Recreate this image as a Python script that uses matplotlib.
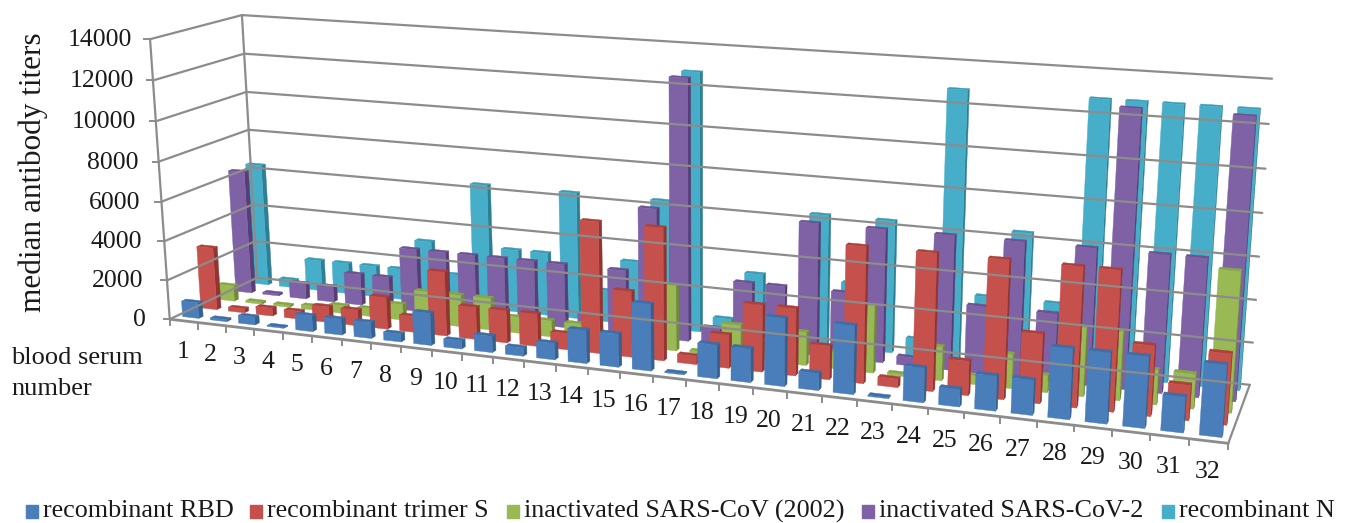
import numpy as np
import matplotlib
matplotlib.use("Agg")
import matplotlib.pyplot as plt

plt.rcParams['font.family'] = ['Liberation Serif', 'DejaVu Serif']

# data, titers look like two-fold steps
serum_numbers = list(range(1, 33))
series_names = ['recombinant RBD', 'recombinant trimer S', 'inactivated SARS-CoV (2002)',
                'inactivated SARS-CoV-2', 'recombinant N']
rbd = [800, 100, 400, 50, 800, 800, 800, 400, 1600, 400, 800, 400, 800, 1600, 1600, 3200,
       50, 1600, 1600, 3200, 800, 3200, 50, 1600, 800, 1600, 1600, 3200, 3200, 3200, 1600, 3200]
trimer_s = [3200, 200, 400, 400, 800, 800, 1600, 800, 3200, 1600, 1600, 1600, 800, 6400, 3200, 6400,
            400, 1600, 3200, 3200, 1600, 6400, 400, 6400, 1600, 6400, 3200, 6400, 6400, 3200, 1600, 3200]
sars_2002 = [800, 100, 100, 200, 400, 400, 800, 1600, 1600, 1600, 800, 800, 800, 200, 800, 3200,
             100, 1600, 800, 1600, 800, 3200, 100, 1600, 400, 1600, 800, 3200, 3200, 1600, 1600, 6400]
sars_cov2 = [6400, 100, 800, 800, 1600, 1600, 3200, 3200, 3200, 3200, 3200, 3200, 800, 3200, 6400, 12800,
             800, 3200, 3200, 6400, 3200, 6400, 400, 6400, 3200, 6400, 3200, 6400, 12800, 6400, 6400, 12800]
n_protein = [6400, 400, 1600, 1600, 1600, 1600, 3200, 1600, 6400, 3200, 3200, 6400, 1600, 3200, 6400, 12800,
             800, 3200, 1600, 6400, 3200, 6400, 800, 12800, 3200, 6400, 3200, 12800, 12800, 12800, 12800, 12800]
all_series = [rbd, trimer_s, sars_2002, sars_cov2, n_protein]
y_ticks = [0, 2000, 4000, 6000, 8000, 10000, 12000, 14000]

# face, side, top colours per series
face_colors = ['#4a7ebb', '#c6504b', '#98b954', '#7f62a5', '#47aec9']
side_colors = ['#35608f', '#923431', '#70893a', '#573f75', '#2f7f94']
top_colors = ['#3f6da6', '#ab403c', '#86a548', '#6d5290', '#3d9bb4']

zmax = 14000.0
ncat = len(serum_numbers)
nser = len(all_series)
bar_w = 0.58
bar_d = 0.24
grid_color = '#8c8c8c'

# the 3d box corners on the picture, used to fit the camera
box = np.array([[0, 0, 0], [1, 0, 0], [0, 1, 0], [1, 1, 0], [0, 0, 1], [0, 1, 1], [1, 1, 1]], float)
pix = np.array([[170, 318], [1228, 445], [257, 279], [1250, 383], [150, 39], [242, 15], [1272, 79]], float)


def fit_camera(b, p):
    rows = []
    for (x, y, z), (u, v) in zip(b, p):
        rows.append([x, y, z, 1, 0, 0, 0, 0, -u * x, -u * y, -u * z, -u])
        rows.append([0, 0, 0, 0, x, y, z, 1, -v * x, -v * y, -v * z, -v])
    _, _, vt = np.linalg.svd(np.array(rows))
    return vt[-1].reshape(3, 4)


cam = fit_camera(box, pix)


def project(x, y, z):
    h = cam @ np.array([x, y, z, 1.0])
    return h[0] / h[2], h[1] / h[2]


def draw_bar(ax, i, j, value):
    x0 = (i + 0.5 - bar_w / 2) / ncat
    x1 = (i + 0.5 + bar_w / 2) / ncat
    y0 = (j + 0.5 - bar_d / 2) / nser
    y1 = (j + 0.5 + bar_d / 2) / nser
    z = value / zmax
    front = [project(x0, y0, 0), project(x1, y0, 0), project(x1, y0, z), project(x0, y0, z)]
    side = [project(x1, y0, 0), project(x1, y1, 0), project(x1, y1, z), project(x1, y0, z)]
    top = [project(x0, y0, z), project(x1, y0, z), project(x1, y1, z), project(x0, y1, z)]
    ax.fill(*zip(*side), color=side_colors[j], lw=0.3)
    ax.fill(*zip(*top), color=top_colors[j], lw=0.3)
    ax.fill(*zip(*front), color=face_colors[j], lw=0.3)


def line3d(ax, a, b, lw=1.6):
    pa = project(*a)
    pb = project(*b)
    ax.plot([pa[0], pb[0]], [pa[1], pb[1]], color=grid_color, lw=lw, solid_capstyle='round')


fig = plt.figure(figsize=(13.52, 5.23), dpi=100)
ax = fig.add_axes([0, 0, 1, 1])
ax.set_xlim(0, 1352)
ax.set_ylim(523, 0)
ax.axis('off')

# walls
for t in y_ticks:
    z = t / zmax
    line3d(ax, (0, 0, z), (0, 1, z))
    line3d(ax, (0, 1, z), (1, 1, z))
    p = project(0, 0, z)
    ax.plot([p[0] - 6, p[0]], [p[1], p[1]], color=grid_color, lw=1.4)
    ax.text(p[0] - 18 - 6 * (1 - z), p[1] + 1, str(t), ha='right', va='center', fontsize=18.5, color='#1a1a1a')
line3d(ax, (0, 0, 0), (0, 0, 1))
line3d(ax, (0, 1, 0), (0, 1, 1))

# floor
line3d(ax, (1, 0, 0), (1, 1, 0))
line3d(ax, (0, 0, 0), (1, 0, 0), lw=2)

for i in range(ncat + 1):
    p = project(i / ncat, 0, 0)
    ax.plot([p[0], p[0]], [p[1], p[1] + 6], color=grid_color, lw=1.4)

# bars, back series first
for j in range(nser - 1, -1, -1):
    for i in range(ncat):
        draw_bar(ax, i, j, all_series[j][i])

for i, num in enumerate(serum_numbers):
    p = project((i + 0.5) / ncat, 0, 0)
    ax.text(p[0] - 1, p[1] + 31, str(num), ha='center', va='center', fontsize=18.5, color='#1a1a1a')

ax.text(33, 172, 'median antibody titers', rotation=90, ha='center', va='center', fontsize=22.5, color='#1a1a1a')
ax.text(11, 358, 'blood serum', ha='left', va='center', fontsize=19, color='#1a1a1a')
ax.text(11, 389, 'number', ha='left', va='center', fontsize=19, color='#1a1a1a')

# legend
legend_x = [26, 250, 507, 862, 1162]
for lx, name, c in zip(legend_x, series_names, face_colors):
    ax.fill([lx, lx + 12, lx + 12, lx], [505, 505, 518, 518], color=c)
    ax.text(lx + 17, 511, name, ha='left', va='center', fontsize=18.8, color='#1a1a1a')

fig.savefig('out.png', dpi=100)
